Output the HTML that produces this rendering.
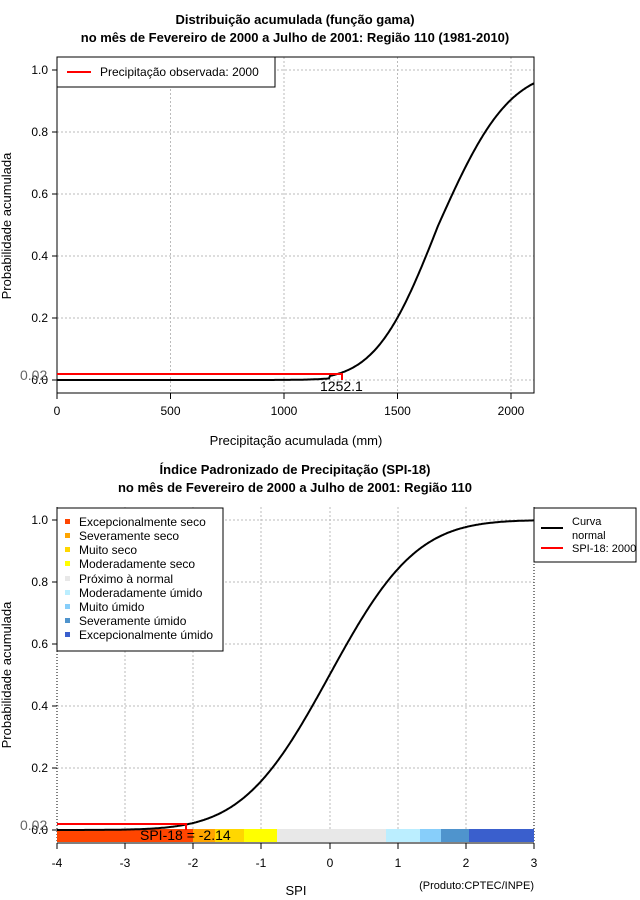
<!DOCTYPE html>
<html><head><meta charset="utf-8"><style>
html,body{margin:0;padding:0;background:#fff}
svg{display:block;font-family:"Liberation Sans",sans-serif}
</style></head><body>
<svg id="s" width="640" height="900" viewBox="0 0 640 900" xmlns="http://www.w3.org/2000/svg">
<rect width="640" height="900" fill="#fff"/>
<text x="295" y="24" text-anchor="middle" font-size="13" font-weight="bold">Distribuição acumulada (função gama)</text>
<text x="295" y="42" text-anchor="middle" font-size="13" font-weight="bold">no mês de Fevereiro de 2000 a Julho de 2001: Região 110 (1981-2010)</text>
<g stroke="#bbb" stroke-dasharray="2,2" stroke-width="1">
<line x1="170.5" y1="57" x2="170.5" y2="393"/><line x1="284" y1="57" x2="284" y2="393"/><line x1="397.5" y1="57" x2="397.5" y2="393"/><line x1="511" y1="57" x2="511" y2="393"/>
<line x1="57" y1="70" x2="534" y2="70"/><line x1="57" y1="132" x2="534" y2="132"/><line x1="57" y1="194" x2="534" y2="194"/><line x1="57" y1="256" x2="534" y2="256"/><line x1="57" y1="318" x2="534" y2="318"/><line x1="57" y1="380" x2="534" y2="380"/>
</g>
<rect x="57" y="57" width="477" height="336" fill="none" stroke="#000"/>
<g stroke="#000"><line x1="52" y1="70" x2="57" y2="70"/><line x1="52" y1="132" x2="57" y2="132"/><line x1="52" y1="194" x2="57" y2="194"/><line x1="52" y1="256" x2="57" y2="256"/><line x1="52" y1="318" x2="57" y2="318"/><line x1="52" y1="380" x2="57" y2="380"/>
<line x1="57" y1="393" x2="57" y2="399"/><line x1="170.5" y1="393" x2="170.5" y2="399"/><line x1="284" y1="393" x2="284" y2="399"/><line x1="397.5" y1="393" x2="397.5" y2="399"/><line x1="511" y1="393" x2="511" y2="399"/></g>
<g font-size="12" text-anchor="end"><text x="48" y="74">1.0</text><text x="48" y="136">0.8</text><text x="48" y="198">0.6</text><text x="48" y="260">0.4</text><text x="48" y="322">0.2</text><text x="48" y="384">0.0</text></g>
<g font-size="12" text-anchor="middle"><text x="57" y="415">0</text><text x="170.5" y="415">500</text><text x="284" y="415">1000</text><text x="397.5" y="415">1500</text><text x="511" y="415">2000</text></g>
<text x="296" y="445" text-anchor="middle" font-size="13">Precipitação acumulada (mm)</text>
<text transform="translate(11,226) rotate(-90)" text-anchor="middle" font-size="13">Probabilidade acumulada</text>
<path id="c1" fill="none" stroke="#000" stroke-width="2"/>
<polyline points="57,374 342,374 342,380" fill="none" stroke="#f00" stroke-width="2"/>
<text x="20" y="380" font-size="14" fill="#666">0.02</text>
<text x="320" y="391" font-size="14">1252.1</text>
<rect x="57" y="57" width="218" height="30" fill="#fff" stroke="#000"/>
<line x1="67" y1="72" x2="91" y2="72" stroke="#f00" stroke-width="2"/>
<text x="100" y="76" font-size="12">Precipitação observada: 2000</text>

<text x="295" y="474" text-anchor="middle" font-size="13" font-weight="bold">Índice Padronizado de Precipitação (SPI-18)</text>
<text x="295" y="492" text-anchor="middle" font-size="13" font-weight="bold">no mês de Fevereiro de 2000 a Julho de 2001: Região 110</text>
<g stroke="#bbb" stroke-dasharray="2,2">
<line x1="125" y1="507" x2="125" y2="843"/><line x1="193" y1="507" x2="193" y2="843"/><line x1="261" y1="507" x2="261" y2="843"/><line x1="330" y1="507" x2="330" y2="843"/><line x1="398" y1="507" x2="398" y2="843"/><line x1="466" y1="507" x2="466" y2="843"/>
<line x1="57" y1="520" x2="534" y2="520"/><line x1="57" y1="582" x2="534" y2="582"/><line x1="57" y1="644" x2="534" y2="644"/><line x1="57" y1="706" x2="534" y2="706"/><line x1="57" y1="768" x2="534" y2="768"/>
</g>
<g stroke="#000" stroke-dasharray="1,2"><line x1="57" y1="507" x2="57" y2="843"/><line x1="534" y1="507" x2="534" y2="843"/></g>
<rect x="57" y="829" width="136" height="13" fill="#ff4500"/>
<rect x="193" y="829" width="22" height="13" fill="#ffa500"/>
<rect x="215" y="829" width="29" height="13" fill="#ffd700"/>
<rect x="244" y="829" width="33" height="13" fill="#ffff00"/>
<rect x="277" y="829" width="109" height="13" fill="#e8e8e8"/>
<rect x="386" y="829" width="34" height="13" fill="#bbeeff"/>
<rect x="420" y="829" width="21" height="13" fill="#87cefa"/>
<rect x="441" y="829" width="28" height="13" fill="#4f94cd"/>
<rect x="469" y="829" width="65" height="13" fill="#3a5fcd"/>
<line x1="57" y1="843" x2="534" y2="843" stroke="#000"/>
<g stroke="#000"><line x1="52" y1="520" x2="57" y2="520"/><line x1="52" y1="582" x2="57" y2="582"/><line x1="52" y1="644" x2="57" y2="644"/><line x1="52" y1="706" x2="57" y2="706"/><line x1="52" y1="768" x2="57" y2="768"/><line x1="52" y1="830" x2="57" y2="830"/>
<line x1="57" y1="843" x2="57" y2="849"/><line x1="125" y1="843" x2="125" y2="849"/><line x1="193" y1="843" x2="193" y2="849"/><line x1="261" y1="843" x2="261" y2="849"/><line x1="330" y1="843" x2="330" y2="849"/><line x1="398" y1="843" x2="398" y2="849"/><line x1="466" y1="843" x2="466" y2="849"/><line x1="534" y1="843" x2="534" y2="849"/></g>
<g font-size="12" text-anchor="end"><text x="48" y="524">1.0</text><text x="48" y="586">0.8</text><text x="48" y="648">0.6</text><text x="48" y="710">0.4</text><text x="48" y="772">0.2</text><text x="48" y="834">0.0</text></g>
<g font-size="12" text-anchor="middle"><text x="57" y="867">-4</text><text x="125" y="867">-3</text><text x="193" y="867">-2</text><text x="261" y="867">-1</text><text x="330" y="867">0</text><text x="398" y="867">1</text><text x="466" y="867">2</text><text x="534" y="867">3</text></g>
<text x="296" y="895" text-anchor="middle" font-size="13">SPI</text>
<text x="534" y="889" text-anchor="end" font-size="11">(Produto:CPTEC/INPE)</text>
<text transform="translate(11,675) rotate(-90)" text-anchor="middle" font-size="13">Probabilidade acumulada</text>
<path id="c2" fill="none" stroke="#000" stroke-width="2"/>
<polyline points="57,824 186,824 186,830" fill="none" stroke="#f00" stroke-width="2"/>
<text x="20" y="830" font-size="14" fill="#666">0.02</text>
<text x="140" y="840" font-size="14">SPI-18 = -2.14</text>
<rect x="57" y="508" width="166" height="143" fill="#fff" stroke="#000"/>
<g font-size="12">
<rect x="65" y="519" width="5" height="5" fill="#ff4500"/><text x="79" y="526">Excepcionalmente seco</text>
<rect x="65" y="533" width="5" height="5" fill="#ffa500"/><text x="79" y="540">Severamente seco</text>
<rect x="65" y="547" width="5" height="5" fill="#ffd700"/><text x="79" y="554">Muito seco</text>
<rect x="65" y="561" width="5" height="5" fill="#ffff00"/><text x="79" y="568">Moderadamente seco</text>
<rect x="65" y="576" width="5" height="5" fill="#e8e8e8"/><text x="79" y="583">Próximo à normal</text>
<rect x="65" y="590" width="5" height="5" fill="#bbeeff"/><text x="79" y="597">Moderadamente úmido</text>
<rect x="65" y="604" width="5" height="5" fill="#87cefa"/><text x="79" y="611">Muito úmido</text>
<rect x="65" y="618" width="5" height="5" fill="#4f94cd"/><text x="79" y="625">Severamente úmido</text>
<rect x="65" y="632" width="5" height="5" fill="#3a5fcd"/><text x="79" y="639">Excepcionalmente úmido</text>
</g>
<rect x="534" y="508" width="102" height="54" fill="#fff" stroke="#000"/>
<line x1="541" y1="528" x2="563" y2="528" stroke="#000" stroke-width="2"/>
<line x1="541" y1="548" x2="563" y2="548" stroke="#f00" stroke-width="2"/>
<g font-size="11"><text x="572" y="525">Curva</text><text x="572" y="539">normal</text><text x="572" y="552">SPI-18: 2000</text></g>
</svg>
<script>
function erf(x){var s=x<0?-1:1;x=Math.abs(x);var t=1/(1+0.3275911*x);var y=1-(((((1.061405429*t-1.453152027)*t)+1.421413741)*t-0.284496736)*t+0.254829592)*t*Math.exp(-x*x);return s*y;}
function Phi(z){return 0.5*(1+erf(z/Math.SQRT2));}
var d="";for(var x=57;x<=534;x+=1){var mm=(x-57)/0.227;var sd=mm<1680?215:245;var p=Phi((mm-1680)/sd);if(mm<1200)p=p*0.4;d+=(x==57?"M":"L")+x+","+(380-310*p).toFixed(1);}
document.getElementById("c1").setAttribute("d",d);
d="";for(var x=57;x<=534;x+=1){var z=-4+(x-57)/68.14;var p=Phi(z);d+=(x==57?"M":"L")+x+","+(830-310*p).toFixed(1);}
document.getElementById("c2").setAttribute("d",d);
</script>
</body></html>
